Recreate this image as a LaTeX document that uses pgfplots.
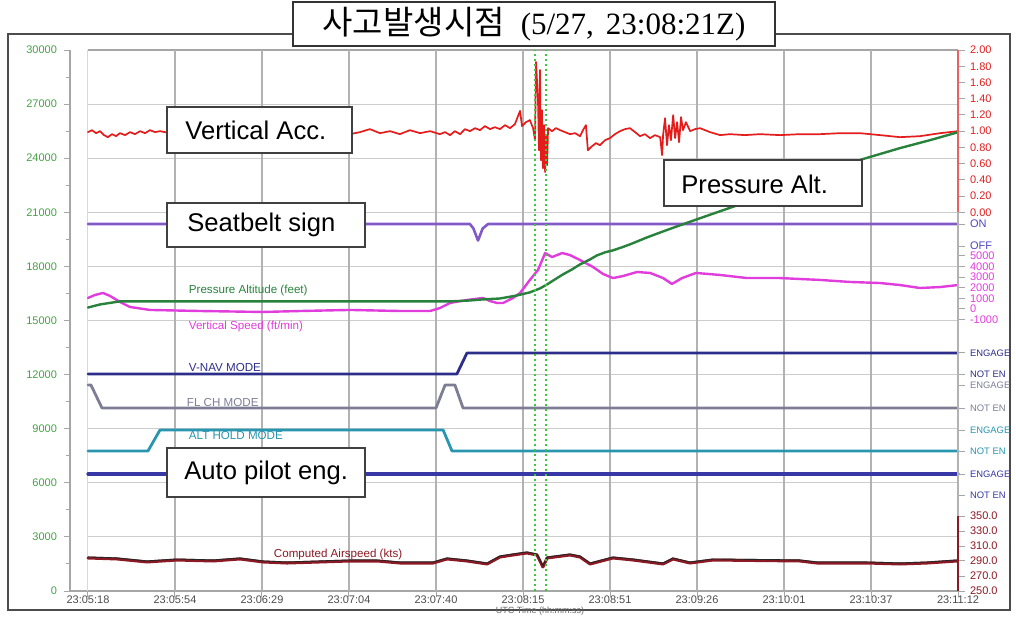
\documentclass[border=0pt]{standalone}
\usepackage{fontspec}
\setmainfont{Liberation Sans}
\newfontfamily\krfont{Noto Sans CJK KR}
\newfontfamily\serfont{Liberation Serif}
\usepackage{pgfplots}
\usepackage{pgfplotstable}
\pgfplotsset{compat=1.18}

\definecolor{accred}{RGB}{228,28,28}
\definecolor{altgreen}{RGB}{40,130,60}
\definecolor{lblgreen}{RGB}{70,160,70}
\definecolor{vsmag}{RGB}{225,60,220}
\definecolor{sbpurple}{RGB}{130,90,200}
\definecolor{sblbl}{RGB}{80,70,190}
\definecolor{vnavblue}{RGB}{45,45,140}
\definecolor{flchgray}{RGB}{125,125,150}
\definecolor{altteal}{RGB}{40,150,175}
\definecolor{apblue}{RGB}{55,55,165}
\definecolor{asred}{RGB}{140,25,35}
\definecolor{dotgreen}{RGB}{60,200,60}

\newcommand{\tk}{\fontsize{5.5}{6.5}\selectfont}
\newcommand{\mini}{\fontsize{5.8}{6.8}\selectfont}
\newcommand{\ann}{\fontsize{12.8}{14}\selectfont}
\newcommand{\sm}[2]{\textcolor{#1}{\fontsize{4.7}{5.5}\selectfont #2}}

% Vertical acceleration (g)
\pgfplotstableread{
t g
0 0.988
1.6 1.012
3.3 0.975
4.9 1.000
6.5 0.951
8.1 0.926
9.8 0.963
11.4 0.938
13.0 0.975
15.1 0.951
17.1 0.988
19.1 0.963
21.2 1.000
23.2 0.975
25.2 1.012
27.3 0.988
29.3 1.000
33.4 0.975
37.4 1.000
41.5 0.963
45.6 0.988
49.6 0.975
53.7 1.000
57.8 0.963
61.8 0.988
65.9 0.975
70.0 1.012
74.1 0.963
78.1 0.988
82.2 0.975
86.3 1.000
90.3 0.963
94.4 0.988
98.5 0.975
102.5 1.000
106.6 0.963
110.7 0.988
114.7 1.025
118.8 0.975
122.9 1.000
126.9 0.963
131.0 1.012
135.1 0.975
139.2 1.000
143.2 0.963
145.3 0.988
147.3 0.951
149.3 1.000
151.4 0.963
153.4 1.025
155.4 1.000
157.5 1.037
159.5 1.012
161.5 1.062
163.6 1.025
165.6 1.049
167.6 1.025
169.7 1.074
171.7 1.037
173.7 1.086
175.8 1.250
176.6 1.062
178.2 1.111
179.8 1.136
181.1 1.037
181.9 0.889
182.3 1.852
183.1 1.383
183.5 0.765
183.9 1.753
184.3 0.642
184.7 1.259
185.1 0.543
185.6 1.074
186.0 0.494
186.4 0.951
186.8 0.580
187.2 1.037
188.8 1.000
190.4 1.037
192.1 1.012
194.1 0.988
196.1 0.963
198.2 0.975
200.2 0.938
201.4 1.012
202.6 1.074
203.4 0.765
205.1 0.815
206.7 0.852
208.3 0.827
210.4 0.889
212.4 0.914
214.4 0.963
216.5 1.000
218.5 1.025
220.5 1.037
222.6 0.988
224.6 0.938
226.6 0.963
228.7 0.914
230.7 0.951
232.8 0.926
233.6 0.704
234.0 0.951
234.8 1.160
235.6 0.827
236.4 1.074
237.2 0.889
238.1 1.198
238.9 0.914
239.7 1.111
240.5 0.864
241.3 1.173
242.1 1.012
243.3 1.111
245.0 1.000
247.0 1.025
249.0 1.037
253.1 0.988
257.2 0.951
261.2 0.963
267.3 0.951
273.4 0.963
281.6 0.951
289.7 0.963
297.9 0.963
306.0 0.975
314.1 0.975
322.3 0.951
330.4 0.926
338.5 0.938
346.7 0.975
354.0 1.000
}\accdata

% Pressure altitude (ft)
\pgfplotstableread{
t alt
0 15720
4.9 15890
13.0 16060
25.2 16060
45.6 16060
86.3 16060
127.0 16060
147.3 16060
155.4 16110
160.7 16170
167.6 16220
174.6 16390
179.8 16560
183.9 16780
186.8 17000
190.0 17280
193.3 17560
196.9 17830
200.2 18110
204.3 18390
207.1 18610
210.4 18780
213.6 18890
217.3 19060
220.5 19220
227.5 19610
234.0 19940
240.9 20280
249.0 20670
257.2 21060
265.3 21440
281.6 22220
297.9 23060
315.0 23940
330.4 24560
342.6 25000
354.0 25440
}\altdata

% Vertical speed (ft/min)
\pgfplotstableread{
t vs
0 1040
2.8 1320
6.1 1510
9.0 1230
13.0 660
17.1 190
25.2 -90
45.6 -190
71.2 -280
86.3 -190
106.6 -90
127.0 -190
139.2 -190
143.2 90
147.3 570
154.2 850
160.7 1040
163.6 750
166.4 570
168.9 570
172.9 1040
175.8 1510
179.8 2740
183.1 3680
186.0 5280
188.8 4900
192.9 5280
196.1 5090
200.2 4620
205.5 3960
209.6 3300
213.6 2920
217.7 3110
223.4 3490
228.7 3400
234.0 2920
237.6 2360
241.7 2920
247.4 3400
257.2 3210
268.1 2920
281.6 2920
297.9 2740
310.1 2550
322.3 2450
330.4 2260
338.5 1980
346.7 2070
354.0 2260
}\vsdata

% Computed airspeed (kt)
\pgfplotstableread{
t kt
0 294
11.8 292.7
24.0 288.7
36.2 291.3
50.9 290
61.8 292.7
71.2 288.7
81.0 287.3
94.4 288.7
106.6 290
117.6 290
127.0 287.3
140.4 287.3
146.1 292.7
154.2 290
162.4 286
167.6 295.3
172.9 298
178.6 300.7
182.7 298
185.1 282
186.8 294
196.1 298
200.2 295.3
204.3 286
213.6 294
221.8 291.3
234.0 286
238.0 292.7
244.9 287.3
254.3 291.3
289.7 290
296.6 287.3
317.0 287.3
330.4 286
341.4 287.3
353.6 290
}\asdata

% Discrete states (1 = ON / ENGAGED, 0 = OFF / NOT ENGAGED)
\pgfplotstableread{
t s
0 1
155.4 1
156.8 0.8
158.7 0.25
160.6 0.8
162.8 1
354 1
}\sbdata
\pgfplotstableread{
t s
0 0
150.1 0
154.2 1
354 1
}\vnavdata
\pgfplotstableread{
t s
0 1
1.2 1
5.7 0
141.6 0
145.3 1
149.3 1
152.6 0
354 0
}\flchdata
\pgfplotstableread{
t s
0 0
24.4 0
29.3 1
144.5 1
148.1 0
354 0
}\altholddata
\pgfplotstableread{
t s
0 1
354 1
}\apdata

\begin{document}
\begin{tikzpicture}
\path[use as bounding box] (0pt,0pt) rectangle (508pt,308pt);
\begin{scope}[x=0.5pt,y=-0.5pt,shift={(0pt,308pt)}]
\draw[gray!60!black, line width=1.1pt] (8,34) rectangle (1010,610);
\end{scope}

\begin{axis}[
  at={(35pt,12.5pt)}, anchor=south west,
  scale only axis, width=444pt, height=270.5pt,
  xmin=-7.32, xmax=354, ymin=0, ymax=30000,
  clip=false,
  scaled y ticks=false, scaled x ticks=false,
  axis x line*=bottom, axis y line*=left,
  axis line style={gray!70, line width=0.6pt},
  xtick={0,35.4,70.8,106.2,141.6,177,212.4,247.8,283.2,318.6,354},
  xticklabels={23:05:18,23:05:54,23:06:29,23:07:04,23:07:40,23:08:15,23:08:51,23:09:26,23:10:01,23:10:37,23:11:12},
  xticklabel style={font=\tk, text=black!70, yshift=4pt},
  ytick={0,3000,6000,9000,12000,15000,18000,21000,24000,27000,30000},
  yticklabels={0,3000,6000,9000,12000,15000,18000,21000,24000,27000,30000},
  yticklabel style={font=\tk, text=lblgreen},
  minor y tick num=1,
  tick align=outside,
  major tick length=3pt, minor tick length=2pt,
  tick style={gray!70, line width=0.5pt},
  every axis plot/.append style={line join=round, line cap=round},
]
% horizontal grid
\pgfplotsinvokeforeach{3000,6000,9000,12000,15000,18000,21000,24000,27000}{
  \draw[gray!40, line width=0.5pt] (axis cs:0,#1) -- (axis cs:354,#1);
}
\draw[gray!70, line width=0.6pt] (axis cs:0,30000) -- (axis cs:354,30000);
% vertical grid
\draw[gray!30, line width=0.5pt] (axis cs:0,0) -- (axis cs:0,30000);
\pgfplotsinvokeforeach{35.4,70.8,106.2,141.6,177,212.4,247.8,283.2,318.6}{
  \draw[gray!60, line width=0.6pt] (axis cs:#1,0) -- (axis cs:#1,30000);
}

\addplot[accred, line width=0.85pt] table[x=t, y expr={21000+4500*\thisrow{g}}] {\accdata};
\addplot[sbpurple, line width=1.3pt] table[x=t, y expr={19131+1220*\thisrow{s}}] {\sbdata};
\addplot[vnavblue, line width=1.4pt] table[x=t, y expr={12033+1165*\thisrow{s}}] {\vnavdata};
\addplot[flchgray, line width=1.4pt] table[x=t, y expr={10148+1275*\thisrow{s}}] {\flchdata};
\addplot[altteal, line width=1.4pt] table[x=t, y expr={7763+1165*\thisrow{s}}] {\altholddata};
\addplot[apblue, line width=1.6pt] table[x=t, y expr={5323+1165*\thisrow{s}}] {\apdata};
\addplot[vsmag, line width=1.2pt] table[x=t, y expr={15638+0.5878*\thisrow{vs}}] {\vsdata};
\addplot[altgreen, line width=1.2pt] table[x=t, y=alt] {\altdata};
\addplot[asred, line width=1.5pt] table[x=t, y expr={(\thisrow{kt}-250)*41.59}] {\asdata};
\addplot[black!85, line width=0.45pt] table[x=t, y expr={(\thisrow{kt}-250)*41.59+60}] {\asdata};

% event markers
\draw[dotgreen, line width=1.1pt, dash pattern=on 1.1pt off 1.4pt] (axis cs:181.9,0) -- (axis cs:181.9,30000);
\draw[dotgreen, line width=1.1pt, dash pattern=on 1.1pt off 1.4pt] (axis cs:186.4,0) -- (axis cs:186.4,30000);

% series captions
\node[anchor=west, font=\mini, text=altgreen] at (axis cs:38.2,16690) {Pressure Altitude (feet)};
\node[anchor=west, font=\mini, text=vsmag] at (axis cs:38.2,14640) {Vertical Speed (ft/min)};
\node[anchor=west, font=\mini, text=vnavblue] at (axis cs:38.2,12420) {V-NAV MODE};
\node[anchor=west, font=\mini, text=flchgray] at (axis cs:37.4,10480) {FL CH MODE};
\node[anchor=west, font=\mini, text=altteal] at (axis cs:38.2,8600) {ALT HOLD MODE};
\node[anchor=west, font=\mini, text=asred] at (axis cs:72.8,2000) {Computed Airspeed (kts)};
\end{axis}

\begin{axis}[
  at={(35pt,12.5pt)}, anchor=south west,
  scale only axis, width=444pt, height=270.5pt,
  xmin=-7.32, xmax=354, ymin=0, ymax=30000,
  clip=false,
  scaled y ticks=false,
  axis x line=none, axis y line*=right,
  axis line style={gray!60, line width=0.6pt},
  ytick={0,832,1664,2495,3327,4159,5323,6488,7763,8928,10148,11423,12033,13198,15050,15638,16226,16814,17401,17989,18577,19131,20351,21000,21900,22800,23700,24600,25500,26400,27300,28200,29100,30000},
  yticklabels={
    \textcolor{asred}{250.0},\textcolor{asred}{270.0},\textcolor{asred}{290.0},\textcolor{asred}{310.0},\textcolor{asred}{330.0},\textcolor{asred}{350.0},
    \sm{apblue}{NOT EN},\sm{apblue}{ENGAGE},
    \sm{altteal}{NOT EN},\sm{altteal}{ENGAGE},
    \sm{flchgray}{NOT EN},\sm{flchgray}{ENGAGE},
    \sm{vnavblue}{NOT EN},\sm{vnavblue}{ENGAGE},
    \textcolor{vsmag}{-1000},\textcolor{vsmag}{0},\textcolor{vsmag}{1000},\textcolor{vsmag}{2000},\textcolor{vsmag}{3000},\textcolor{vsmag}{4000},\textcolor{vsmag}{5000},
    \textcolor{sblbl}{OFF},\textcolor{sblbl}{ON},
    \textcolor{accred}{0.00},\textcolor{accred}{0.20},\textcolor{accred}{0.40},\textcolor{accred}{0.60},\textcolor{accred}{0.80},\textcolor{accred}{1.00},\textcolor{accred}{1.20},\textcolor{accred}{1.40},\textcolor{accred}{1.60},\textcolor{accred}{1.80},\textcolor{accred}{2.00}},
  yticklabel style={font=\tk, xshift=-1pt},
  tick align=outside,
  major tick length=3.5pt,
  tick style={gray!70, line width=0.5pt},
]
\addplot[draw=none] coordinates {(0,0)};
\draw[accred!70, line width=0.7pt] (axis cs:354,21000) -- (axis cs:354,30000);
\draw[asred, line width=0.7pt] (axis cs:354,0) -- (axis cs:354,4159);
\end{axis}

\begin{scope}[x=0.5pt,y=-0.5pt,shift={(0pt,308pt)}]
% annotation boxes
\draw[gray!50!black, fill=white, line width=0.6pt] (167,107) rectangle (352,153);
\node[anchor=west, font=\ann, inner sep=0] at (185,130) {Vertical Acc.};
\draw[gray!50!black, fill=white, line width=0.6pt] (167,203) rectangle (365,247);
\node[anchor=west, font=\ann, inner sep=0] at (187,225) {Seatbelt sign};
\draw[gray!50!black, fill=white, line width=0.6pt] (664,160) rectangle (862,206);
\node[anchor=west, font=\ann, inner sep=0] at (681,184) {Pressure Alt.};
\draw[gray!50!black, fill=white, line width=0.6pt] (167,448) rectangle (365,497);
\node[anchor=west, font=\ann, inner sep=0] at (184,473) {Auto pilot eng.};
% title box
\draw[black!80, fill=white, line width=0.9pt] (293,2) rectangle (775,46);
\node[inner sep=0] at (534,24) {{\krfont\fontsize{16.5}{18}\selectfont 사고발생시점}\hspace{8pt}{\serfont\fontsize{15.5}{17}\selectfont (5/27,\hspace{6pt}23:08:21Z)}};
% x axis title
\node[font=\fontsize{4.5}{5}\selectfont, text=black!60, inner sep=0pt] at (540,611.5) {UTC Time (hh:mm:ss)};
\end{scope}
\end{tikzpicture}
\end{document}
